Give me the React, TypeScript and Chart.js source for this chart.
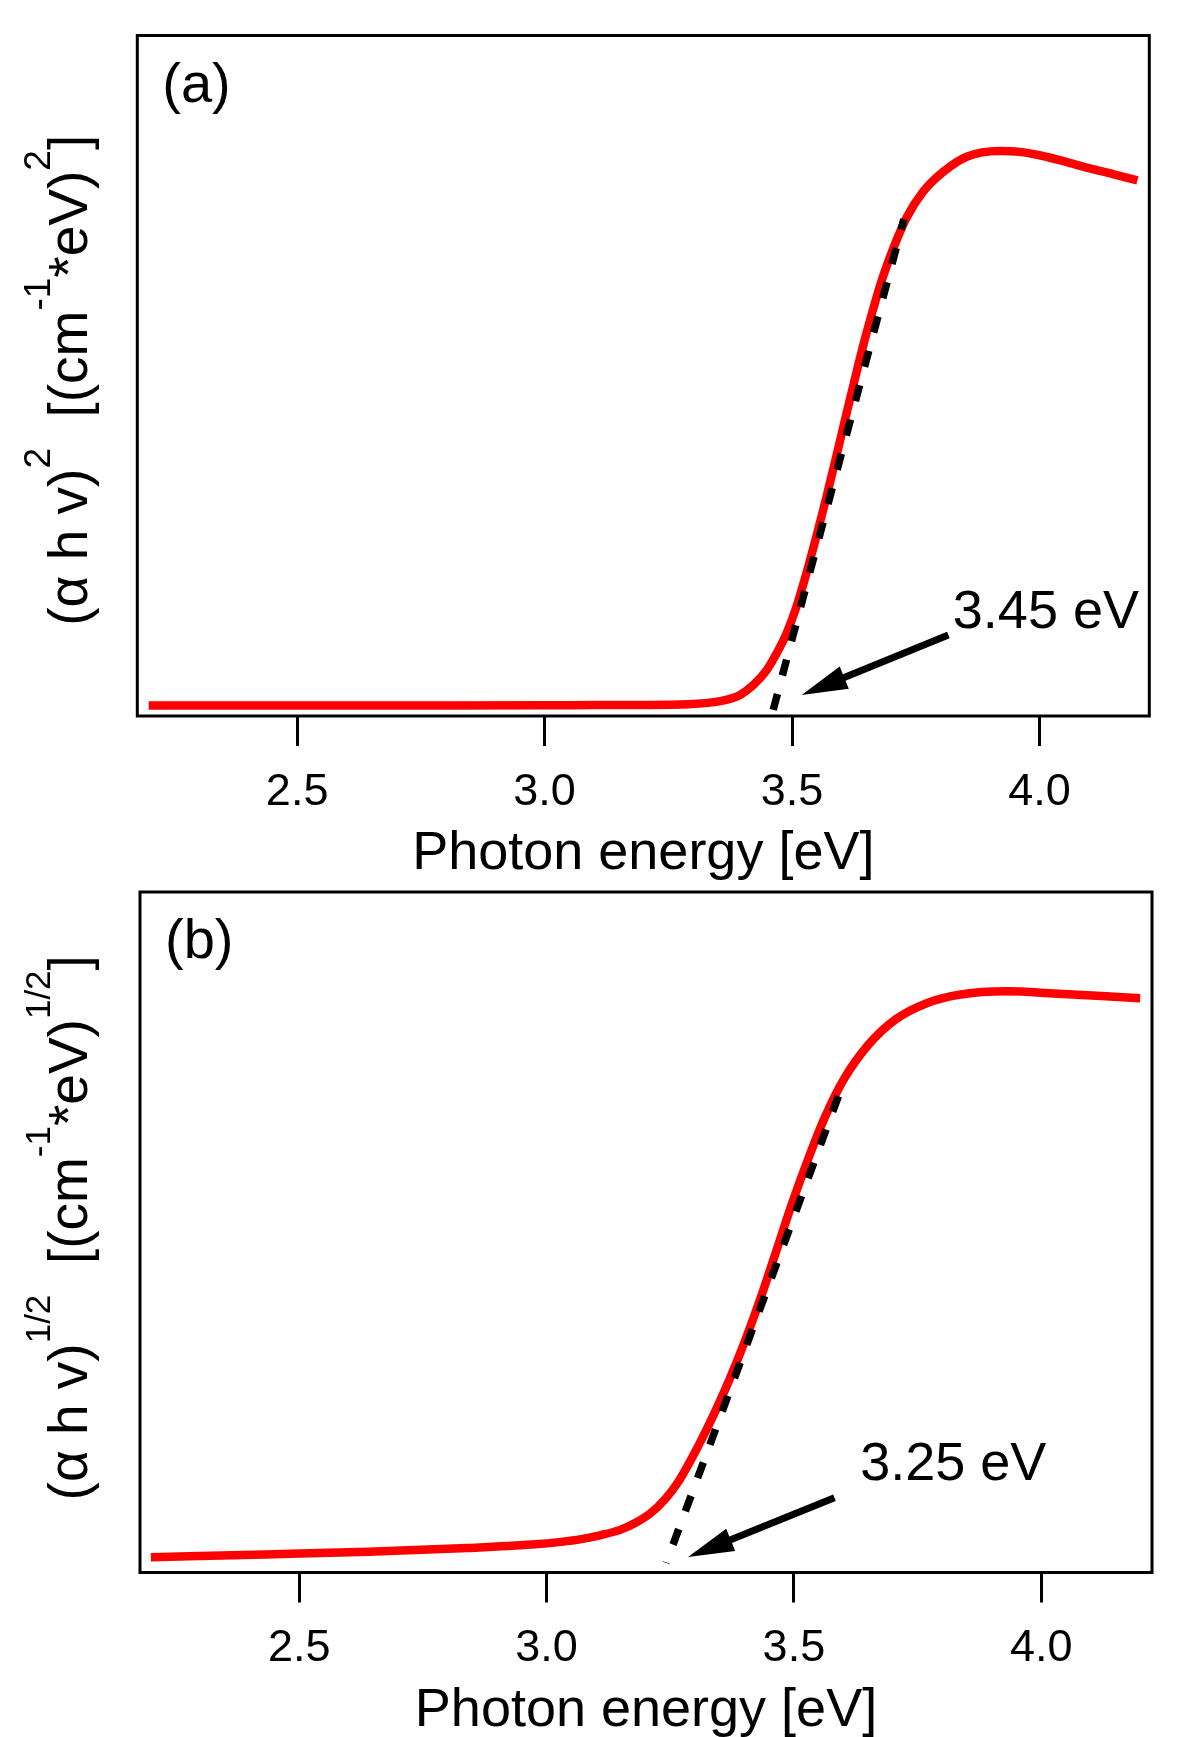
import React, { useEffect, useRef } from "react";
import { Chart, registerables } from "chart.js";

Chart.register(...registerables);

const FONT = '"Liberation Sans", Arial, Helvetica, sans-serif';

// ---------- shared axis data ----------
const xTickValues = [2.5, 3.0, 3.5, 4.0];
const xTitleText = "Photon energy [eV]";
const yMinMax = [0, 100];

// ---------- panel (a): (alpha h v)^2 ----------
const energyA = [2.2, 2.5, 2.8, 3.0, 3.1, 3.19, 3.29, 3.36, 3.395, 3.422, 3.449, 3.469, 3.489, 3.509, 3.53, 3.55, 3.57, 3.59, 3.61, 3.631, 3.647, 3.664, 3.684, 3.705, 3.732, 3.765, 3.806, 3.853, 3.92, 3.96, 4.0, 4.05, 4.1, 4.15, 4.198];
const absorbA = [1.55, 1.55, 1.55, 1.57, 1.6, 1.62, 1.72, 2.25, 3.09, 4.56, 6.76, 9.21, 12.15, 16.06, 21.2, 26.6, 32.3, 38.3, 44.4, 50.7, 55.3, 59.8, 64.6, 68.8, 73.3, 77.05, 79.99, 82.19, 83.03, 82.9, 82.4, 81.5, 80.5, 79.6, 78.7];
const fitEnergyA = [3.462, 3.726];
const fitValueA = [0.9, 73.0];
const arrowFromA = [3.816, 11.9];
const arrowToA = [3.5195, 3.09];
const labelPosA = [3.825, 12.9];
const labelTextA = "3.45 eV";
const xRangeA = [2.177, 4.222];
const yTitleA = [
  { t: "(α h v)", sup: false },
  { t: "2", sup: true },
  { t: "  [(cm", sup: false },
  { t: "-1", sup: true },
  { t: "*eV)", sup: false },
  { t: "2", sup: true },
  { t: "]", sup: false },
];

// ---------- panel (b): (alpha h v)^1/2 ----------
const energyB = [2.2, 2.43, 2.64, 2.84, 2.97, 3.03, 3.07, 3.11, 3.15, 3.18, 3.21, 3.24, 3.266, 3.306, 3.338, 3.37, 3.402, 3.434, 3.466, 3.498, 3.53, 3.562, 3.602, 3.65, 3.706, 3.77, 3.834, 3.93, 4.026, 4.122, 4.2];
const absorbB = [2.25, 2.65, 3.05, 3.6, 4.1, 4.5, 4.9, 5.5, 6.3, 7.3, 8.7, 10.8, 13.3, 18.5, 23.2, 28.4, 34.2, 40.6, 47.6, 54.6, 61.0, 66.8, 72.6, 77.5, 81.3, 83.7, 84.9, 85.4, 85.1, 84.7, 84.4];
const fitEnergyB = [3.59, 3.242];
const fitValueB = [70.0, 1.4];
const arrowFromB = [3.582, 10.98];
const arrowToB = [3.286, 2.27];
const labelPosB = [3.634, 13.6];
const labelTextB = "3.25 eV";
const xRangeB = [2.178, 4.224];
const yTitleB = [
  { t: "(α h v)", sup: false },
  { t: "1/2", sup: true },
  { t: "  [(cm", sup: false },
  { t: "-1", sup: true },
  { t: "*eV)", sup: false },
  { t: "1/2", sup: true },
  { t: "]", sup: false },
];

type Seg = { t: string; sup: boolean };

type PanelCfg = {
  letter: string;
  energy: number[];
  absorb: number[];
  fitE: number[];
  fitV: number[];
  arrowFrom: number[];
  arrowTo: number[];
  labelPos: number[];
  labelText: string;
  xRange: number[];
  yTitle: Seg[];
  supSize: number;
  yTitleStart: number;
  canvasTop: number;
  canvasHeight: number;
  padTop: number;
  padRight: number;
  yWidth: number;
  xHeight: number;
};

function makeDecor(cfg: PanelCfg) {
  return {
    id: "decor" + cfg.letter,
    afterDraw(chart: any) {
      const { ctx, chartArea: ca } = chart;
      const xs = chart.scales.x;
      const ys = chart.scales.y;
      ctx.save();
      // frame
      ctx.strokeStyle = "#000";
      ctx.lineWidth = 3;
      ctx.strokeRect(ca.left, ca.top, ca.right - ca.left, ca.bottom - ca.top);

      // panel letter
      ctx.fillStyle = "#000";
      ctx.textAlign = "left";
      ctx.textBaseline = "alphabetic";
      ctx.font = `56px ${FONT}`;
      ctx.fillText(cfg.letter, ca.left + 25, ca.top + 66);

      // arrow
      const x1 = xs.getPixelForValue(cfg.arrowFrom[0]);
      const y1 = ys.getPixelForValue(cfg.arrowFrom[1]);
      const x2 = xs.getPixelForValue(cfg.arrowTo[0]);
      const y2 = ys.getPixelForValue(cfg.arrowTo[1]);
      const ang = Math.atan2(y2 - y1, x2 - x1);
      const headLen = 46;
      const headHalf = 12;
      const bx = x2 - headLen * Math.cos(ang);
      const by = y2 - headLen * Math.sin(ang);
      ctx.lineWidth = 7;
      ctx.lineCap = "butt";
      ctx.beginPath();
      ctx.moveTo(x1, y1);
      ctx.lineTo(bx + 4 * Math.cos(ang), by + 4 * Math.sin(ang));
      ctx.stroke();
      ctx.beginPath();
      ctx.moveTo(x2, y2);
      ctx.lineTo(bx - headHalf * Math.sin(ang), by + headHalf * Math.cos(ang));
      ctx.lineTo(bx + headHalf * Math.sin(ang), by - headHalf * Math.cos(ang));
      ctx.closePath();
      ctx.fill();

      // annotation text
      ctx.font = `54px ${FONT}`;
      ctx.fillText(
        cfg.labelText,
        xs.getPixelForValue(cfg.labelPos[0]),
        ys.getPixelForValue(cfg.labelPos[1])
      );

      // rotated y-axis title with superscripts
      ctx.translate(87, ca.bottom - cfg.yTitleStart);
      ctx.rotate(-Math.PI / 2);
      let cx = 0;
      for (const seg of cfg.yTitle) {
        ctx.font = `${seg.sup ? cfg.supSize : 55}px ${FONT}`;
        ctx.fillText(seg.t, cx, seg.sup ? -37 : 0);
        cx += ctx.measureText(seg.t).width;
      }
      ctx.restore();
    },
  };
}

function Panel({ cfg }: { cfg: PanelCfg }) {
  const ref = useRef<HTMLCanvasElement | null>(null);
  useEffect(() => {
    if (!ref.current) return;
    const curve = cfg.energy.map((e, i) => ({ x: e, y: cfg.absorb[i] }));
    const fit = cfg.fitE.map((e, i) => ({ x: e, y: cfg.fitV[i] }));
    const chart = new Chart(ref.current, {
      type: "line",
      data: {
        datasets: [
          {
            label: "fit",
            data: fit,
            borderColor: "#000",
            borderWidth: 7.5,
            borderDash: [16.5, 19],
            borderCapStyle: "butt",
            pointRadius: 0,
            tension: 0,
            fill: false,
          },
          {
            label: "curve",
            data: curve,
            borderColor: "#ff0000",
            borderWidth: 8.5,
            pointRadius: 0,
            cubicInterpolationMode: "monotone",
            fill: false,
          },
        ],
      },
      options: {
        animation: false,
        responsive: false,
        devicePixelRatio: 1,
        layout: { padding: { left: 0, top: cfg.padTop, right: cfg.padRight, bottom: 0 } },
        plugins: { legend: { display: false }, tooltip: { enabled: false } },
        scales: {
          x: {
            type: "linear",
            min: cfg.xRange[0],
            max: cfg.xRange[1],
            afterBuildTicks: (s: any) => {
              s.ticks = xTickValues.map((v) => ({ value: v }));
            },
            afterFit: (s: any) => {
              s.height = cfg.xHeight;
            },
            ticks: {
              callback: (v: any) => Number(v).toFixed(1),
              font: { family: FONT, size: 45, lineHeight: 1.2 },
              color: "#000",
              padding: 19.5,
              maxRotation: 0,
              autoSkip: false,
            },
            grid: {
              display: true,
              drawOnChartArea: false,
              drawTicks: true,
              tickLength: 30,
              tickWidth: 3,
              tickColor: "#000",
              color: "#000",
            },
            border: { display: false },
            title: {
              display: true,
              text: xTitleText,
              font: { family: FONT, size: 54, lineHeight: 0.8 },
              color: "#000",
              padding: { top: 0, bottom: 4 },
            },
          },
          y: {
            type: "linear",
            min: yMinMax[0],
            max: yMinMax[1],
            ticks: { display: false },
            grid: { display: false },
            border: { display: false },
            afterFit: (s: any) => {
              s.width = cfg.yWidth;
            },
          },
        },
      } as any,
      plugins: [makeDecor(cfg)],
    });
    return () => chart.destroy();
  }, [cfg]);
  return (
    <canvas
      ref={ref}
      width={1179}
      height={cfg.canvasHeight}
      style={{ position: "absolute", left: 0, top: cfg.canvasTop, width: 1179, height: cfg.canvasHeight }}
    />
  );
}

const panelA: PanelCfg = {
  letter: "(a)",
  energy: energyA,
  absorb: absorbA,
  fitE: fitEnergyA,
  fitV: fitValueA,
  arrowFrom: arrowFromA,
  arrowTo: arrowToA,
  labelPos: labelPosA,
  labelText: labelTextA,
  xRange: xRangeA,
  yTitle: yTitleA,
  supSize: 37,
  yTitleStart: 90.3,
  canvasTop: 0,
  canvasHeight: 880,
  padTop: 35.5,
  padRight: 29.7,
  yWidth: 137.3,
  xHeight: 164,
};

const panelB: PanelCfg = {
  letter: "(b)",
  energy: energyB,
  absorb: absorbB,
  fitE: fitEnergyB,
  fitV: fitValueB,
  arrowFrom: arrowFromB,
  arrowTo: arrowToB,
  labelPos: labelPosB,
  labelText: labelTextB,
  xRange: xRangeB,
  yTitle: yTitleB,
  supSize: 35,
  yTitleStart: 72.1,
  canvasTop: 860,
  canvasHeight: 877,
  padTop: 32,
  padRight: 27,
  yWidth: 140,
  xHeight: 164.5,
};

export default function App() {
  useEffect(() => {
    document.body.style.margin = "0";
    document.body.style.overflow = "hidden";
    document.body.style.background = "#fff";
  }, []);
  return (
    <div style={{ position: "relative", width: 1179, height: 1737, overflow: "hidden", background: "#fff" }}>
      <Panel cfg={panelA} />
      <Panel cfg={panelB} />
    </div>
  );
}
